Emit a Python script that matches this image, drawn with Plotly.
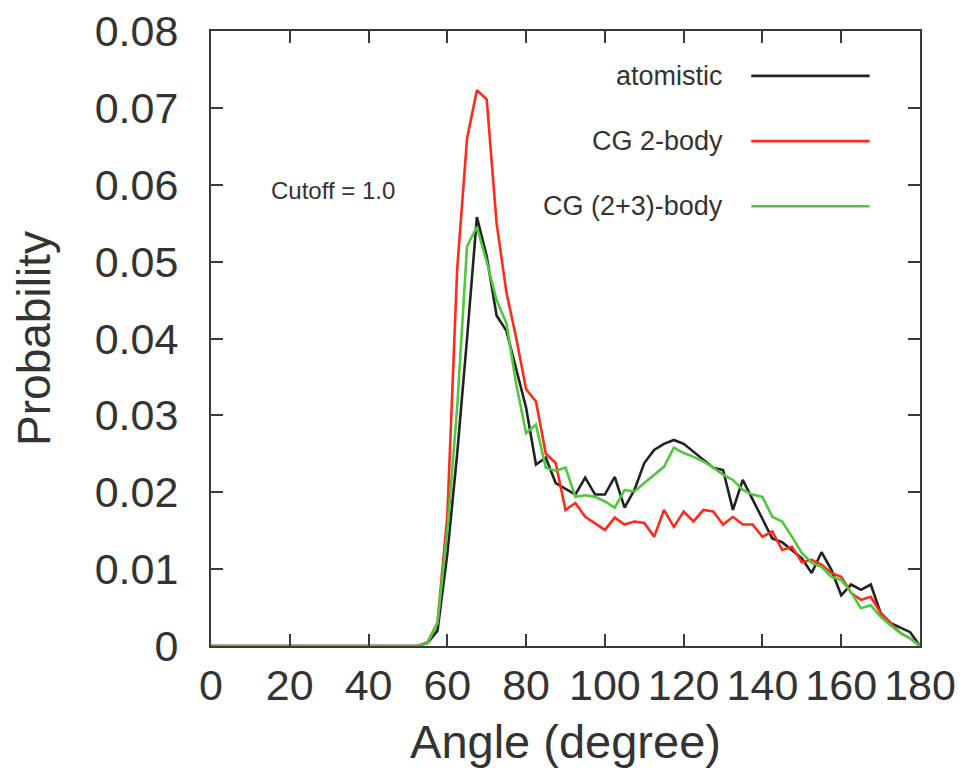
import plotly.graph_objects as go

# bond-angle distribution, 2.5 degree bins
angle = [i * 2.5 for i in range(73)]

atomistic = [0.0] * 22 + [
    0.0004, 0.002, 0.012, 0.025, 0.040, 0.0558, 0.0507, 0.043, 0.041, 0.036,
    0.031, 0.0236, 0.0245, 0.0212, 0.0205, 0.0197, 0.0219, 0.0197, 0.0197, 0.022,
    0.018, 0.0203, 0.0238, 0.0255, 0.0263, 0.0268, 0.0263, 0.0253, 0.0242, 0.0232,
    0.0229, 0.0177, 0.0216, 0.019, 0.0165, 0.014, 0.0135, 0.0125, 0.0114, 0.0095,
    0.0122, 0.0099, 0.0066, 0.008, 0.0073, 0.008, 0.0043, 0.003, 0.0024, 0.0018,
    0.0,
]

cg_2body = [0.0] * 22 + [
    0.0005, 0.003, 0.017, 0.049, 0.066, 0.0723, 0.0711, 0.055, 0.046, 0.040,
    0.0334, 0.0318, 0.025, 0.0238, 0.0177, 0.0186, 0.0168, 0.016, 0.0151, 0.0167,
    0.0158, 0.0162, 0.016, 0.0142, 0.0177, 0.0155, 0.0175, 0.0162, 0.0177, 0.0175,
    0.0158, 0.0168, 0.0158, 0.0158, 0.0142, 0.0149, 0.0125, 0.0129, 0.0109, 0.0112,
    0.0106, 0.0095, 0.009, 0.0069, 0.006, 0.0064, 0.0043, 0.003, 0.0017, 0.001,
    0.0,
]

cg_23body = [0.0] * 22 + [
    0.0004, 0.003, 0.015, 0.031, 0.052, 0.0545, 0.050, 0.045, 0.042, 0.034,
    0.0277, 0.0288, 0.0232, 0.0228, 0.0232, 0.0194, 0.0196, 0.0194, 0.0188, 0.018,
    0.0203, 0.0201, 0.0212, 0.0223, 0.0233, 0.0258, 0.0251, 0.0246, 0.024, 0.0232,
    0.0223, 0.0216, 0.0203, 0.0197, 0.0194, 0.0168, 0.0162, 0.0142, 0.0121, 0.0108,
    0.0103, 0.009, 0.0086, 0.007, 0.0049, 0.0053, 0.0038, 0.0027, 0.0017, 0.001,
    0.0,
]

series = [
    ("atomistic", atomistic, "#222222"),
    ("CG 2-body", cg_2body, "#ff2a1a"),
    ("CG (2+3)-body", cg_23body, "#4ec83c"),
]

x_ticks = list(range(0, 181, 20))
y_ticks = [0, 0.01, 0.02, 0.03, 0.04, 0.05, 0.06, 0.07, 0.08]
y_tick_text = ["0", "0.01", "0.02", "0.03", "0.04", "0.05", "0.06", "0.07", "0.08"]

FONT = "Liberation Sans, Arial, sans-serif"
AXIS_COLOR = "#3a3a3a"

fig = go.Figure()
for name, vals, color in series:
    fig.add_trace(go.Scatter(x=angle, y=vals, mode="lines", name=name,
                             line=dict(color=color, width=2.6)))

# gnuplot-style key: text right-aligned, line sample to its right
key_y = [0.927, 0.821, 0.715]
for (name, vals, color), ky in zip(series, key_y):
    fig.add_annotation(x=0.725, y=ky, xref="paper", yref="paper", text=name,
                       showarrow=False, xanchor="right", yanchor="middle",
                       font=dict(family=FONT, size=27, color="#333333"))
    fig.add_shape(type="line", xref="paper", yref="paper", x0=0.762, x1=0.929,
                  y0=ky, y1=ky, line=dict(color=color, width=2.6))

fig.add_annotation(x=0.172, y=0.741, xref="paper", yref="paper", text="Cutoff = 1.0",
                   showarrow=False, xanchor="center", yanchor="middle",
                   font=dict(family=FONT, size=24, color="#333333"))

axis_common = dict(
    showline=True, linecolor=AXIS_COLOR, linewidth=2, mirror="ticks",
    ticks="inside", ticklen=12, tickwidth=2, tickcolor=AXIS_COLOR,
    showgrid=False, zeroline=False, ticklabeloverflow="allow",
    tickfont=dict(family=FONT, size=43, color="#333333"),
)

fig.update_xaxes(range=[0, 180], tickvals=x_ticks,
                 title=dict(text="Angle (degree)", standoff=18,
                            font=dict(family=FONT, size=47, color="#333333")),
                 **axis_common)
fig.update_yaxes(range=[0, 0.08], tickvals=y_ticks, ticktext=y_tick_text,
                 ticklabelstandoff=22,
                 title=dict(text="Probability", standoff=30,
                            font=dict(family=FONT, size=46, color="#333333")),
                 **axis_common)

fig.update_layout(
    width=967, height=779,
    margin=dict(l=203, r=55, t=23, b=141, autoexpand=False),
    plot_bgcolor="white", paper_bgcolor="white",
    showlegend=False,
)

fig.write_html("out.html")
